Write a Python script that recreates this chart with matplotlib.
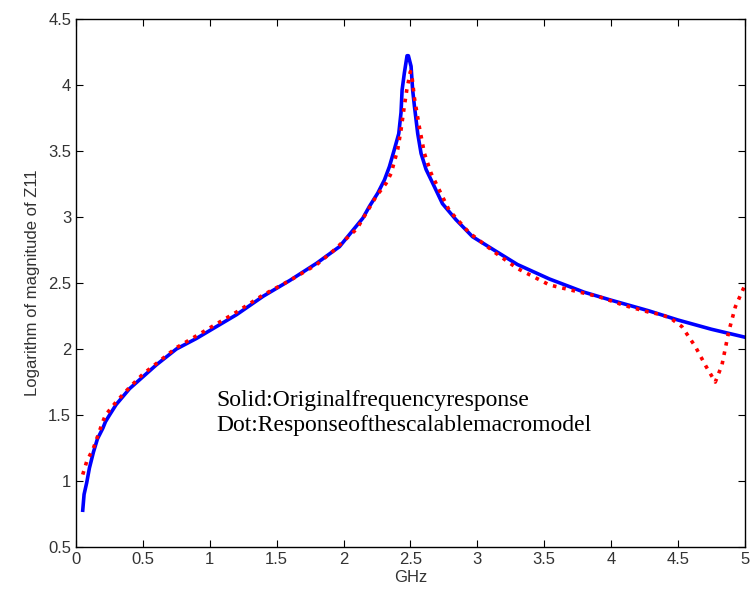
import numpy as np
import matplotlib.pyplot as plt

# frequency (GHz) and log magnitude of Z11
ghz_orig = [0.05, 0.06, 0.08, 0.1, 0.13, 0.16, 0.2, 0.22, 0.25, 0.3, 0.4, 0.5, 0.6, 0.75,
            0.9, 1.0, 1.2, 1.4, 1.6, 1.8, 1.97, 2.144, 2.194, 2.256, 2.306, 2.343, 2.38,
            2.413, 2.43, 2.438, 2.455, 2.475, 2.485, 2.505, 2.517, 2.53, 2.555, 2.58,
            2.617, 2.667, 2.74, 2.84, 2.965, 3.14, 3.3, 3.54, 3.8, 4.0, 4.28, 4.5,
            4.75, 5.0]
z11_orig = [0.78, 0.9, 0.99, 1.1, 1.22, 1.32, 1.4, 1.45, 1.5, 1.58, 1.7, 1.79, 1.88, 2.0,
            2.08, 2.14, 2.26, 2.4, 2.52, 2.65, 2.775, 2.99, 3.08, 3.18, 3.28, 3.38, 3.51,
            3.63, 3.79, 3.96, 4.09, 4.22, 4.22, 4.14, 3.96, 3.84, 3.63, 3.48,
            3.36, 3.255, 3.10, 2.98, 2.85, 2.74, 2.64, 2.53, 2.43, 2.37, 2.29, 2.22,
            2.15, 2.09]

ghz_model = [0.05, 0.08, 0.13, 0.2, 0.22, 0.3, 0.4, 0.5, 0.6, 0.75, 0.9, 1.0, 1.2, 1.4,
             1.6, 1.8, 1.92, 2.1, 2.244, 2.319, 2.356, 2.405, 2.43, 2.455, 2.473, 2.5,
             2.51, 2.53, 2.567, 2.605, 2.655, 2.79, 2.94, 3.14, 3.3, 3.54, 3.91, 4.1,
             4.28, 4.38, 4.45, 4.53, 4.63, 4.71, 4.78, 4.83, 4.88, 4.93, 5.0]
z11_model = [1.05, 1.15, 1.25, 1.45, 1.5, 1.6, 1.71, 1.81, 1.89, 2.01, 2.1, 2.16, 2.28, 2.41,
             2.52, 2.64, 2.74, 2.91, 3.155, 3.255, 3.33, 3.51, 3.66, 3.84, 3.96, 4.1,
             4.08, 3.9, 3.68, 3.48, 3.33, 3.05, 2.88, 2.725, 2.61, 2.485, 2.396, 2.33,
             2.28, 2.26, 2.23, 2.17, 2.02, 1.87, 1.75, 1.88, 2.13, 2.32, 2.48]

plt.rcParams['font.family'] = ['Liberation Sans', 'DejaVu Sans']

fig = plt.figure(figsize=(7.53, 6.04), dpi=100)
ax = fig.add_axes([0.101, 0.094, 0.888, 0.875])

ax.plot(ghz_orig, z11_orig, color='blue', linewidth=2.6)
ax.plot(ghz_model, z11_model, color='red', linestyle=':', linewidth=2.6)

ax.set_xlim(0, 5)
ax.set_ylim(0.5, 4.5)
ax.set_xticks(np.arange(0, 5.01, 0.5))
ax.set_yticks(np.arange(0.5, 4.51, 0.5))
ax.set_xticklabels(['0', '0.5', '1', '1.5', '2', '2.5', '3', '3.5', '4', '4.5', '5'])
ax.set_yticklabels(['0.5', '1', '1.5', '2', '2.5', '3', '3.5', '4', '4.5'])
ax.tick_params(direction='in', length=5, top=True, right=True, labelsize=12,
               colors='black', labelcolor='#333333')
for s in ax.spines.values():
    s.set_linewidth(1.0)

ax.set_xlabel('GHz', fontsize=12, color='#333333', labelpad=2)
ax.set_ylabel('Logarithm of magnitude of Z11', fontsize=12, color='#333333', labelpad=6)

ax.text(1.05, 1.61, 'Solid:Originalfrequencyresponse', family='Liberation Serif',
        fontsize=17, va='center')
ax.text(1.05, 1.42, 'Dot:Responseofthescalablemacromodel', family='Liberation Serif',
        fontsize=17, va='center')

plt.savefig('out.png', dpi=100)
